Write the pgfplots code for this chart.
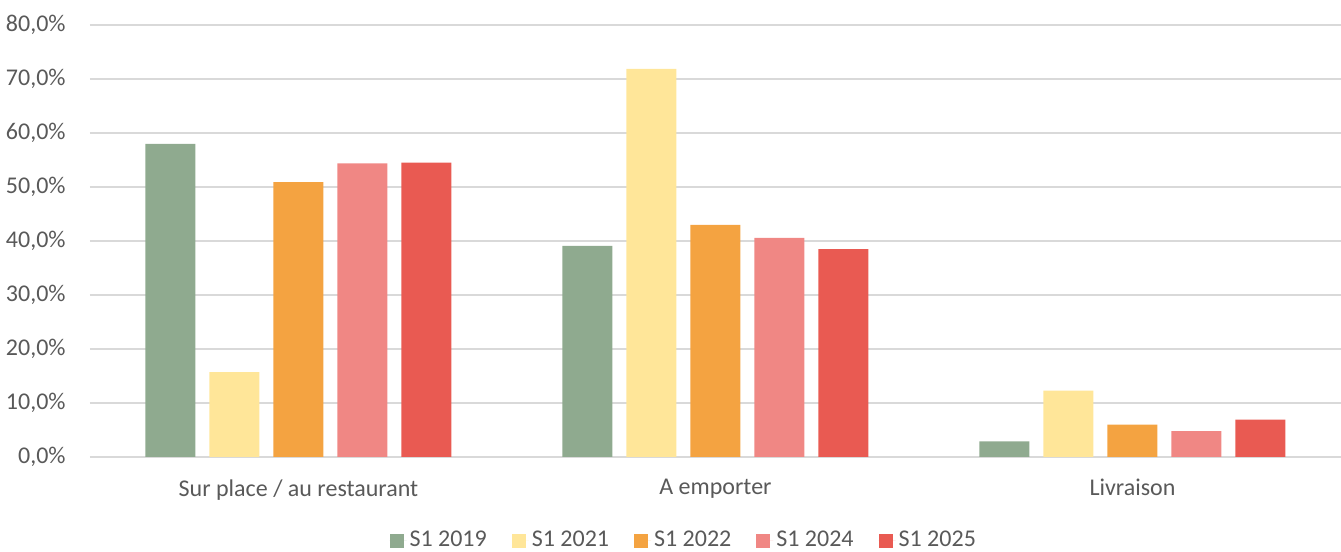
\documentclass[border=0pt]{standalone}
\usepackage{fontspec}
\setmainfont{Carlito}
\usepackage{pgfplots}
\pgfplotsset{compat=1.18}
\definecolor{cA}{HTML}{8FAA8F}
\definecolor{cB}{HTML}{FFE699}
\definecolor{cC}{HTML}{F4A341}
\definecolor{cD}{HTML}{F08784}
\definecolor{cE}{HTML}{E95A52}
\definecolor{txt}{HTML}{595959}
\definecolor{grd}{HTML}{D9D9D9}
\begin{document}
\fontsize{12}{14}\selectfont
\begin{tikzpicture}
\begin{axis}[
  scale only axis,
  width=625.5pt, height=216pt,
  ybar=7pt, bar width=25pt,
  xmin=-0.5, xmax=2.5,
  ymin=0, ymax=80,
  xtick={0,1,2},
  xticklabels={Sur place / au restaurant, A emporter, Livraison},
  ytick={0,10,...,80},
  yticklabel={\pgfmathprintnumber[fixed,fixed zerofill,precision=1,use comma,assume math mode=true]{\tick}\%},
  axis x line*=bottom, axis y line*=left,
  x axis line style={grd, line width=0.8pt, -},
  y axis line style={draw=none},
  ymajorgrids, grid style={grd, line width=0.8pt},
  major tick length=0pt,
  tick style={draw=none},
  ticklabel style={font=\fontsize{12}{14}\selectfont, text=txt},
  xticklabel style={yshift=-7pt},
  yticklabel style={xshift=-8pt},
  legend style={at={(0.475,-0.194)}, anchor=center, draw=none, fill=none,
    legend columns=5, font=\fontsize{12}{14}\selectfont, text=txt,
    nodes={inner sep=1.5pt},
    /tikz/every even column/.append style={column sep=11pt}},
  legend image code/.code={\fill[#1] (0pt,-3.5pt) rectangle (7pt,3.5pt); \path (0pt,0pt) -- (8.5pt,0pt);},
  every axis plot/.append style={draw=none},
]
\addplot[fill=cA] coordinates {(0,58.0) (1,39.1) (2,2.9)};
\addplot[fill=cB] coordinates {(0,15.7) (1,71.9) (2,12.3)};
\addplot[fill=cC] coordinates {(0,50.9) (1,43.0) (2,6.0)};
\addplot[fill=cD] coordinates {(0,54.4) (1,40.6) (2,4.8)};
\addplot[fill=cE] coordinates {(0,54.5) (1,38.5) (2,6.9)};
\legend{S1 2019, S1 2021, S1 2022, S1 2024, S1 2025}
\end{axis}
\pgfresetboundingbox
\useasboundingbox (-45pt,-47.5pt) rectangle (625.5pt,228.5pt);
\end{tikzpicture}
\end{document}
